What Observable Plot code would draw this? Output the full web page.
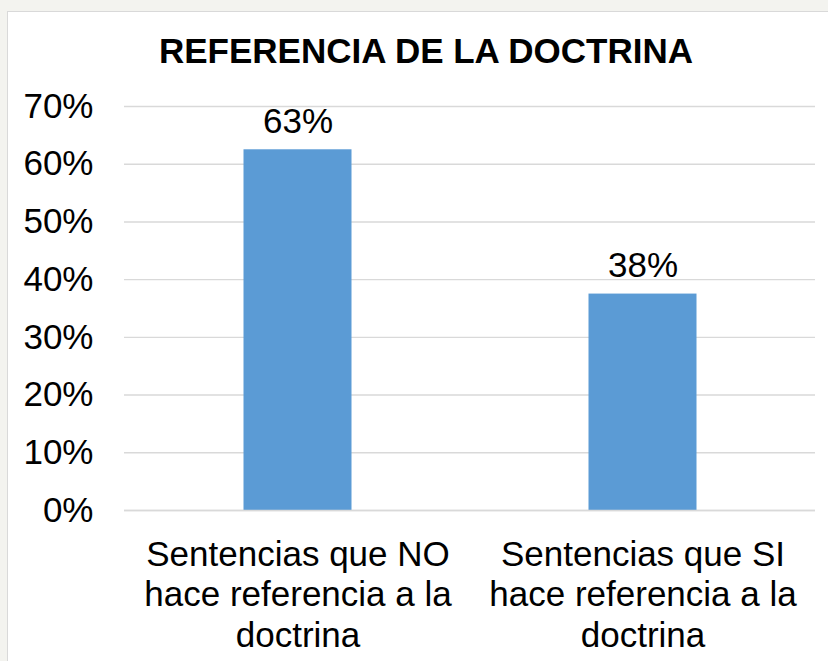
<!DOCTYPE html>
<html><head><meta charset="utf-8">
<script src="https://cdn.jsdelivr.net/npm/d3@7"></script>
<script src="https://cdn.jsdelivr.net/npm/@observablehq/plot@0.6"></script>
<style>
html,body{margin:0;padding:0;background:#f3f3ef;}
#wrap{position:relative;width:828px;height:661px;overflow:hidden;background:#f3f3ef;font-family:"Liberation Sans",Arial,sans-serif;}
#panel{position:absolute;left:7px;top:11px;width:900px;height:900px;background:#fff;border:1px solid #d9d9d9;box-sizing:border-box;}
#title{position:relative;height:70px;box-sizing:border-box;padding-top:31px;line-height:40px;width:852px;text-align:center;font-weight:bold;font-size:35px;color:#000;}
#chart{position:relative;}
</style></head>
<body>
<div id="wrap"><div id="panel"></div><div id="title">REFERENCIA DE LA DOCTRINA</div><div id="chart"></div></div>
<script>
const categories = ["Sentencias que NO\nhace referencia a la\ndoctrina", "Sentencias que SI\nhace referencia a la\ndoctrina"];
const values = [0.625, 0.375];
const valueLabels = ["63%", "38%"];
const yTicks = [0, 0.1, 0.2, 0.3, 0.4, 0.5, 0.6, 0.7];

const data = categories.map((c, i) => ({cat: c, v: values[i], label: valueLabels[i]}));

const chart = Plot.plot({
  width: 828,
  height: 591,
  marginTop: 36,
  marginBottom: 151,
  marginLeft: 124,
  marginRight: 13,
  style: {fontFamily: "'Liberation Sans', Arial, sans-serif", background: "transparent", fontSize: "35px", color: "#000"},
  x: {domain: categories, padding: 0, label: null},
  y: {domain: [0, 0.7], label: null},
  marks: [
    Plot.gridY(yTicks, {stroke: "#d9d9d9", strokeOpacity: 1, strokeWidth: 1.4}),
    Plot.axisY(yTicks, {tickFormat: d => Math.round(d * 100) + "%", tickSize: 0, tickPadding: 31, fontSize: 35, label: null}),
    Plot.barY(data, {x: "cat", y: "v", fill: "#5b9bd5", insetLeft: 118.5, insetRight: 118.5}),
    Plot.text(data, {x: "cat", y: "v", text: "label", dy: -28, fontSize: 35, fill: "#000"}),
    Plot.axisX({tickSize: 0, tickPadding: 0, fontSize: 35, lineHeight: 1.15, textAnchor: "middle", lineAnchor: "top", dy: 27, label: null}),
    Plot.ruleY([0], {stroke: "#d9d9d9", strokeWidth: 1.4})
  ]
});
document.getElementById("chart").appendChild(chart);
</script>
</body></html>
